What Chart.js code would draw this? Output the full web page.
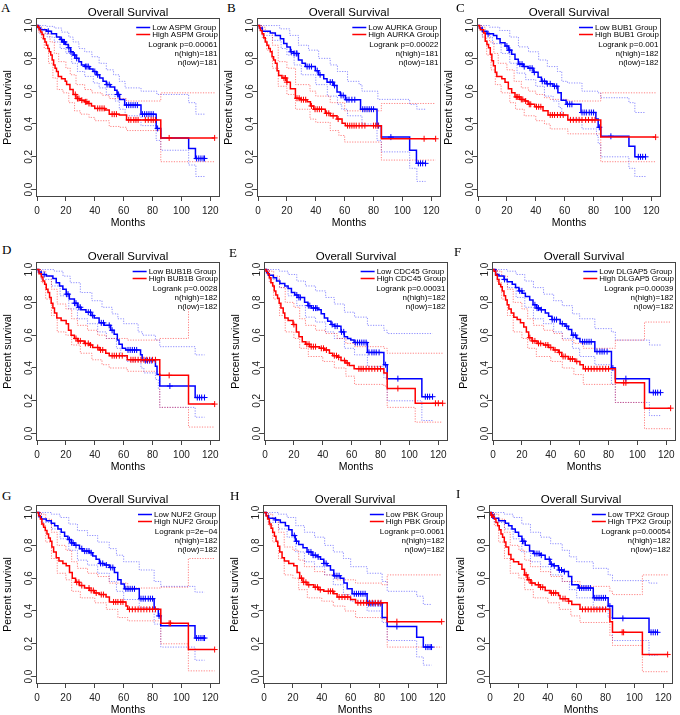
<!DOCTYPE html>
<html>
<head>
<meta charset="utf-8">
<script src="https://cdn.jsdelivr.net/npm/chart.js@4.4.1/dist/chart.umd.min.js"></script>
<style>
html, body { margin: 0; padding: 0; background: #fff; overflow: hidden; width: 680px; height: 715px; position: relative; }
canvas { position: absolute; }
.tag { position: absolute; font: 13px "Liberation Serif", "Times New Roman", serif; line-height: 13px; color: #000; }
</style>
</head>
<body>
<script>
// ---- panel texts ----
var letters = ['A', 'B', 'C', 'D', 'E', 'F', 'G', 'H', 'I'];
var genes = ['ASPM', 'AURKA', 'BUB1', 'BUB1B', 'CDC45', 'DLGAP5', 'NUF2', 'PBK', 'TPX2'];
var pValues = ['0.00061', '0.00022', '0.001', '0.0028', '0.00031', '0.00039', '2e\u221204', '0.0061', '0.00054'];
var nHigh = [181, 181, 182, 182, 182, 182, 182, 182, 182];
var nLow = [181, 181, 182, 182, 182, 182, 182, 182, 182];

// ---- survival curves: [month, survival] steps, censor months, dotted 95% bands ----
// A  ASPM
var aLow = [[0,1],[1,0.985],[2.5,0.975],[6.7,0.965],[10,0.95],[13.5,0.93],[16,0.915],[17.7,0.9],[19.8,0.885],[21.6,0.865],[23.2,0.84],[25,0.82],[27,0.8],[29,0.78],[30.8,0.76],[33,0.75],[36.5,0.735],[38.8,0.72],[41,0.7],[43.4,0.68],[45.7,0.66],[48,0.64],[50.8,0.625],[53.8,0.605],[55.4,0.58],[57.2,0.55],[60.7,0.515],[72,0.46],[82.5,0.373],[85.7,0.315],[105,0.25],[109.7,0.19],[116,0.19]];
var aLowCens = [7.8,17,18.5,19,22,23.5,26,27.5,33.5,34.5,35.5,40,42,48.5,50,55.8,56.5,62,63.5,65,66.5,68,69.5,73,74.5,76,77.5,79,80.5,83.5,110.5,112,113.5,115,116];
var aHigh = [[0,1],[0.5,0.99],[1.5,0.975],[2.5,0.96],[3.5,0.945],[4.5,0.92],[5.5,0.9],[6.5,0.88],[7.5,0.86],[8.5,0.84],[9.5,0.82],[10.5,0.79],[11.5,0.76],[12.5,0.74],[13.5,0.72],[14.7,0.69],[17,0.675],[19.5,0.66],[20.5,0.64],[22.8,0.61],[25,0.58],[27,0.555],[29.7,0.545],[33,0.535],[35.4,0.525],[37.7,0.51],[40,0.495],[47,0.485],[50,0.46],[57,0.455],[62,0.425],[85.7,0.315],[123,0.315]];
var aHighCens = [26.5,28,29,31,33.5,34.5,36,42,43.5,45,46.5,52,53.5,55,63.5,65,67,68.5,70,75,77,79,80.5,82,91.5,123];
var aLowUp = [[0,1],[6,0.995],[12,0.985],[17,0.96],[22,0.93],[25,0.9],[29,0.86],[33,0.84],[38,0.81],[43,0.77],[48,0.73],[53,0.7],[57,0.66],[61,0.62],[72,0.6],[83,0.58],[105,0.53],[110,0.46],[116,0.46]];
var aLowDn = [[0,1],[2,0.95],[7,0.93],[12,0.9],[16,0.86],[20,0.83],[24,0.77],[28,0.72],[33,0.69],[39,0.65],[43,0.62],[48,0.58],[54,0.54],[57,0.49],[61,0.45],[72,0.39],[82.5,0.3],[85.7,0.24],[105,0.15],[110,0.08],[116,0.08]];
var aHighUp = [[0,1],[1,0.995],[3,0.98],[6,0.95],[9,0.9],[12,0.83],[15,0.78],[20,0.74],[23,0.7],[27,0.64],[33,0.61],[38,0.59],[45,0.575],[50,0.555],[62,0.54],[85.7,0.59],[123,0.59]];
var aHighDn = [[0,1],[1,0.96],[3,0.92],[5,0.86],[8,0.77],[11,0.68],[14,0.61],[18,0.59],[22,0.53],[26,0.48],[30,0.46],[36,0.44],[40,0.42],[50,0.385],[57,0.38],[62,0.36],[85.7,0.17],[123,0.17]];
// B  AURKA
var bLow = [[0,1],[1,0.985],[3,0.966],[8.5,0.955],[12,0.94],[15.5,0.92],[17.8,0.89],[20,0.87],[22.4,0.84],[24.7,0.83],[28,0.79],[30.5,0.77],[32.8,0.75],[39.7,0.725],[42,0.7],[45.5,0.675],[47.8,0.655],[52.4,0.635],[54.7,0.595],[57,0.574],[60.5,0.548],[71,0.49],[82.4,0.39],[85.4,0.32],[105,0.24],[109.7,0.16],[116,0.16]];
var bLowCens = [23,25,26.5,27,34,35.5,37,41,43,50,51.5,53,57.5,59,61.5,63,65,67,72.5,74,75.5,77,78.5,80,83.5,92,111,112.5,114,116];
var bHigh = [[0,1],[1,0.985],[1.6,0.97],[2.8,0.95],[4,0.925],[5,0.9],[6.2,0.88],[7.4,0.86],[8.5,0.84],[9.7,0.81],[10.8,0.79],[12,0.77],[13.2,0.725],[14.3,0.695],[16.6,0.68],[20,0.655],[22.4,0.615],[25.9,0.557],[29.3,0.548],[34,0.535],[36.3,0.51],[38.6,0.49],[46.6,0.465],[50,0.45],[54.7,0.43],[58.2,0.405],[60.5,0.39],[85.4,0.31],[123,0.31]];
var bHighCens = [18,19,20,27,28.5,30,31.5,33,37,39.5,41,42.5,44,47.5,49,52,55.5,62,63.5,65,66.5,68,70,72,74,80,81.5,83,115,123];
var bLowUp = [[0,1],[8,1],[15,0.98],[22,0.94],[28,0.88],[35,0.85],[42,0.8],[50,0.76],[55,0.72],[62,0.66],[70,0.64],[72,0.6],[83,0.55],[105,0.52],[110,0.49],[116,0.49]];
var bLowDn = [[0,1],[3,0.94],[10,0.91],[16,0.86],[20,0.82],[25,0.76],[30,0.7],[40,0.64],[48,0.57],[55,0.52],[58,0.49],[62,0.45],[72,0.4],[82.4,0.3],[85.4,0.23],[105,0.13],[110,0.05],[116,0.05]];
var bHighUp = [[0,1],[2,0.99],[5,0.96],[10,0.88],[14,0.78],[20,0.74],[26,0.64],[36,0.6],[40,0.57],[50,0.53],[60,0.48],[85.4,0.525],[123,0.525]];
var bHighDn = [[0,1],[3,0.92],[6,0.85],[10,0.74],[14,0.63],[20,0.58],[26,0.49],[36,0.43],[40,0.41],[50,0.36],[56,0.33],[60,0.29],[85.4,0.18],[123,0.18]];
// C  BUB1
var cLow = [[0,1],[1,0.985],[3,0.965],[6.2,0.95],[10.7,0.94],[13,0.92],[15.3,0.895],[18.7,0.875],[21,0.85],[23.3,0.825],[25.6,0.795],[27.9,0.765],[31.3,0.75],[34.7,0.74],[38.2,0.715],[41.6,0.685],[43.9,0.66],[47.3,0.645],[51.9,0.63],[55.3,0.59],[57.6,0.545],[61,0.52],[71.3,0.47],[81.6,0.43],[83.2,0.38],[85,0.325],[104.5,0.265],[108.6,0.2],[116,0.2]];
var cLowCens = [7,20,21.5,22,29,30.5,32,36,37.5,39,44.5,46,48,50,53,54.5,62,63.5,65,72,73.5,75,77,78.5,80,84,92,111,112.5,114,116];
var cHigh = [[0,1],[1,0.985],[1.6,0.975],[3.9,0.955],[5,0.905],[6.2,0.885],[7.3,0.865],[8.5,0.825],[9.6,0.785],[10.7,0.755],[11.9,0.715],[13,0.69],[16.5,0.675],[18.7,0.655],[21,0.615],[23.3,0.59],[25.6,0.565],[29,0.55],[32.5,0.54],[34.7,0.52],[39.3,0.505],[45,0.48],[48.5,0.455],[62.2,0.425],[85,0.32],[123,0.32]];
var cHighCens = [26.5,27.5,28.5,30,31,33,35.5,36.5,40.5,42,43.5,50,51.5,53,55,57,59,64,66,68,70,72,74.5,76.5,79,81,123];
var cLowUp = [[0,1],[8,0.99],[15,0.97],[22,0.93],[28,0.87],[35,0.84],[42,0.79],[48,0.75],[55,0.72],[58,0.66],[62,0.65],[72,0.6],[83,0.59],[85,0.56],[104.5,0.53],[108.6,0.47],[116,0.47]];
var cLowDn = [[0,1],[3,0.93],[10,0.89],[16,0.83],[22,0.77],[27,0.71],[33,0.67],[40,0.63],[46,0.57],[52,0.54],[56,0.5],[58,0.45],[62,0.43],[72,0.37],[82,0.33],[83.2,0.28],[85,0.2],[104.5,0.13],[108.6,0.08],[116,0.08]];
var cHighUp = [[0,1],[2,0.99],[5,0.96],[8,0.9],[11,0.83],[14,0.77],[20,0.73],[25,0.66],[30,0.62],[35,0.6],[40,0.58],[46,0.56],[50,0.55],[62.2,0.54],[85,0.59],[123,0.59]];
var cHighDn = [[0,1],[3,0.93],[6,0.82],[9,0.73],[12,0.64],[16,0.59],[22,0.53],[26,0.49],[32,0.45],[40,0.42],[46,0.4],[50,0.37],[62.2,0.34],[85,0.17],[123,0.17]];
// D  BUB1B
var dLow = [[0,1],[1,0.985],[3,0.97],[6.4,0.96],[11,0.945],[13.3,0.92],[15.6,0.9],[17.9,0.88],[20.2,0.85],[22.4,0.82],[25.9,0.795],[28.2,0.77],[30.5,0.755],[33.9,0.74],[37.3,0.72],[39.6,0.705],[43,0.675],[46.5,0.66],[51,0.63],[53.4,0.605],[55.6,0.57],[56.8,0.545],[59,0.52],[61.4,0.51],[71.7,0.48],[72.8,0.445],[82,0.41],[83.1,0.36],[85,0.29],[109.5,0.22],[116,0.22]];
var dLowCens = [5,20.5,21.5,26,27,29,30,35.5,37,38.5,44.5,46,50,52,63,64.5,66,67.5,69,75,76.5,78,79.5,92,111,112.5,114,116];
var dHigh = [[0,1],[1.4,0.975],[3,0.955],[4.1,0.93],[5.3,0.91],[6.4,0.88],[7.6,0.86],[8.7,0.83],[9.8,0.795],[11,0.765],[12.1,0.735],[13.7,0.705],[16.7,0.69],[20.2,0.67],[21.8,0.63],[23.6,0.6],[25.9,0.58],[28.2,0.565],[32.7,0.55],[36.2,0.54],[38.5,0.525],[43,0.51],[47.6,0.49],[50,0.475],[62.5,0.45],[85,0.355],[104.9,0.18],[123,0.18]];
var dHighCens = [27,28.5,30,33.5,35.5,37,42,44,45.5,52,53.5,55,57,59,65,66.5,68,70,72,74,76,78,80,82,91.5,123];
var dLowUp = [[0,1],[6,1],[12,0.99],[18,0.96],[23,0.92],[30,0.86],[38,0.81],[45,0.77],[52,0.73],[56,0.7],[60,0.67],[70,0.62],[73,0.6],[82,0.57],[85,0.53],[109.5,0.48],[116,0.48]];
var dLowDn = [[0,1],[3,0.94],[10,0.9],[16,0.84],[22,0.76],[28,0.7],[35,0.67],[42,0.62],[48,0.58],[55,0.52],[58,0.47],[62,0.44],[72,0.4],[74,0.37],[82,0.33],[84,0.27],[85,0.16],[109.5,0.1],[116,0.1]];
var dHighUp = [[0,1],[3,0.99],[6,0.96],[10,0.88],[14,0.79],[20,0.76],[24,0.7],[28,0.66],[35,0.63],[42,0.6],[48,0.58],[62.5,0.57],[85,0.58],[104.9,0.76],[106,0.76]];
var dHighDn = [[0,1],[3,0.92],[6,0.82],[10,0.72],[14,0.62],[20,0.6],[24,0.54],[30,0.49],[38,0.45],[45,0.42],[50,0.4],[62.5,0.38],[85,0.16],[104.9,0.04],[123,0.04]];
// E  CDC45
var eLow = [[0,1],[1.1,0.98],[2.3,0.965],[5.7,0.95],[8,0.93],[10.3,0.915],[13.7,0.9],[16,0.885],[18.3,0.86],[20.6,0.845],[22.9,0.83],[27.4,0.8],[29.7,0.78],[32,0.765],[36.6,0.755],[38.9,0.73],[41.1,0.705],[43.4,0.685],[45.7,0.665],[48,0.655],[52.6,0.62],[54.9,0.59],[57.1,0.58],[59.4,0.57],[61.7,0.555],[70.9,0.495],[82.3,0.42],[84.6,0.335],[108.6,0.225],[116,0.225]];
var eLowCens = [22,23.5,24.5,30,31,33.5,35,36,46.5,48.5,50,53,54.5,62.5,64,65.5,67,68.5,70,72,74,75.5,77,79,83.5,92,111,112.5,114,116];
var eHigh = [[0,1],[0.7,0.99],[1.8,0.975],[3,0.95],[4.1,0.92],[5.3,0.9],[6.4,0.87],[7.5,0.845],[8.7,0.825],[9.8,0.795],[11,0.765],[12.6,0.735],[13.7,0.705],[16,0.69],[19.4,0.665],[21.7,0.62],[23.5,0.59],[25.8,0.56],[28.1,0.545],[30.9,0.53],[37.7,0.52],[41.1,0.51],[44.6,0.49],[46.9,0.475],[50.3,0.465],[52.6,0.445],[56,0.43],[58.3,0.415],[61.7,0.395],[82.3,0.37],[84.6,0.275],[104,0.185],[123,0.185]];
var eHighCens = [20,29,30.5,32,33.5,35,39,40.5,42.5,48,49.5,51,55,57,65,66.5,68,70,72,74,76,78,80,92,118,120,123];
var eLowUp = [[0,1],[10,0.99],[16,0.97],[22,0.93],[28,0.9],[35,0.87],[42,0.83],[48,0.79],[55,0.74],[62,0.71],[70.9,0.66],[82.3,0.63],[84.6,0.61],[116,0.61]];
var eLowDn = [[0,1],[3,0.94],[10,0.89],[16,0.84],[22,0.78],[28,0.71],[35,0.68],[42,0.62],[48,0.58],[55,0.52],[62,0.48],[70.9,0.41],[82.3,0.34],[84.6,0.2],[108.6,0.08],[116,0.08]];
var eHighUp = [[0,1],[3,0.99],[6,0.96],[10,0.89],[14,0.8],[20,0.77],[24,0.7],[28,0.66],[35,0.63],[42,0.61],[50,0.58],[56,0.55],[62,0.53],[82.3,0.52],[84.6,0.49],[123,0.49]];
var eHighDn = [[0,1],[3,0.92],[6,0.82],[10,0.72],[14,0.62],[20,0.58],[24,0.52],[30,0.47],[40,0.44],[48,0.4],[56,0.35],[62,0.3],[82.3,0.29],[84.6,0.16],[104,0.07],[123,0.07]];
// F  DLGAP5
var fLow = [[0,1],[1.8,0.97],[4.1,0.96],[7.6,0.94],[9.8,0.925],[13.3,0.91],[15.6,0.89],[17.9,0.87],[20.2,0.855],[22.4,0.835],[25.4,0.815],[27.7,0.785],[30,0.765],[32.7,0.755],[36.2,0.735],[38.5,0.715],[40.8,0.695],[46.5,0.67],[49.9,0.655],[52.2,0.635],[54.5,0.6],[57.9,0.58],[60.2,0.56],[70.5,0.5],[82,0.4],[84.7,0.335],[108.3,0.25],[116,0.25]];
var fLowCens = [8,18.5,20,29,30.5,31.5,33.5,41,42.5,44,48,51,55.5,57,62,63.5,65,66.5,68,72,74,75.5,77,79,83,92,111,112.5,114,116];
var fHigh = [[0,1],[0.7,0.99],[1.8,0.965],[3,0.94],[4.1,0.91],[5.3,0.895],[6.4,0.87],[7.6,0.84],[8.7,0.815],[9.8,0.785],[11,0.76],[12.6,0.735],[14.4,0.71],[16.7,0.695],[19,0.675],[21.3,0.65],[23.1,0.62],[24.7,0.585],[27,0.565],[30.5,0.55],[35,0.54],[38.5,0.525],[41.9,0.51],[45.3,0.495],[47.6,0.47],[52.2,0.455],[56.8,0.44],[60.2,0.42],[62.5,0.395],[84.7,0.31],[104.9,0.155],[123,0.155]];
var fHighCens = [25.5,27.5,29,31.5,33,36.5,38,40,43,46,48.5,50,53.5,55,58,64,66,68,70,72,74,76,78,80,90.5,92,123];
var fLowUp = [[0,1],[10,0.99],[16,0.97],[22,0.93],[28,0.89],[35,0.85],[42,0.81],[48,0.78],[55,0.73],[60,0.7],[70.5,0.64],[82,0.62],[84.7,0.57],[108.3,0.54],[116,0.54]];
var fLowDn = [[0,1],[3,0.94],[10,0.89],[16,0.83],[22,0.77],[28,0.7],[35,0.67],[42,0.62],[48,0.58],[55,0.52],[60,0.47],[70.5,0.42],[82,0.3],[84.7,0.19],[108.3,0.11],[116,0.11]];
var fHighUp = [[0,1],[3,0.99],[6,0.96],[10,0.88],[14,0.8],[20,0.76],[24,0.7],[28,0.66],[35,0.63],[42,0.61],[48,0.57],[56,0.55],[62.5,0.52],[84.7,0.57],[104.9,0.68],[123,0.68]];
var fHighDn = [[0,1],[3,0.92],[6,0.82],[10,0.72],[14,0.62],[20,0.58],[24,0.52],[30,0.47],[40,0.44],[48,0.4],[56,0.36],[62.5,0.3],[84.7,0.19],[104.9,0.03],[123,0.03]];
// G  NUF2
var gLow = [[0,1],[1.4,0.975],[3,0.96],[6.4,0.95],[9.9,0.935],[12.2,0.92],[14.5,0.9],[16.8,0.88],[19.1,0.855],[21.4,0.835],[23.7,0.815],[26,0.8],[29.4,0.78],[31.7,0.765],[36.3,0.755],[38.6,0.735],[40.9,0.715],[43.2,0.69],[46.7,0.68],[50.1,0.665],[53.6,0.635],[55.9,0.59],[58.2,0.565],[60.5,0.535],[70.8,0.475],[81.1,0.41],[84,0.37],[85.7,0.31],[109.4,0.235],[116,0.235]];
var gLowCens = [22.5,24,25,27,31,33,34.5,36,37.5,44,45.5,48,51,52.5,61.5,63,64.5,66,67.5,72,73.5,75,77,78.5,80,84.5,110.5,112,113.5,115,116];
var gHigh = [[0,1],[1.1,0.98],[2.3,0.96],[3.4,0.93],[4.6,0.91],[5.7,0.89],[6.9,0.87],[8,0.845],[9.2,0.825],[10.3,0.79],[11.5,0.76],[13.3,0.725],[15.2,0.705],[17.9,0.69],[20.2,0.675],[22.5,0.635],[24.4,0.6],[26.7,0.575],[29.4,0.555],[32.9,0.54],[36.3,0.525],[39.8,0.51],[43.2,0.5],[47.8,0.485],[50.1,0.455],[61.6,0.43],[62.8,0.41],[85.7,0.325],[104.8,0.165],[123,0.165]];
var gHighCens = [27.5,29,31,36,37.5,39,41,44.5,46,53,54.5,56,58,59.5,64,66,68,70,72,74,76,78,80,82,91.5,92.5,123];
var gLowUp = [[0,1],[10,0.99],[16,0.97],[22,0.93],[28,0.89],[35,0.86],[42,0.82],[50,0.78],[55,0.74],[60,0.7],[70.8,0.65],[81.1,0.58],[85.7,0.55],[109.4,0.515],[116,0.515]];
var gLowDn = [[0,1],[3,0.94],[10,0.9],[16,0.84],[22,0.77],[28,0.71],[35,0.68],[42,0.63],[50,0.58],[55,0.52],[60,0.47],[70.8,0.42],[81.1,0.32],[85.7,0.18],[109.4,0.1],[116,0.1]];
var gHighUp = [[0,1],[3,0.99],[6,0.96],[10,0.88],[14,0.8],[20,0.77],[24,0.7],[28,0.66],[35,0.63],[42,0.61],[50,0.57],[62.8,0.54],[85.7,0.545],[104.8,0.72],[123,0.72]];
var gHighDn = [[0,1],[3,0.92],[6,0.82],[10,0.72],[14,0.63],[20,0.59],[24,0.52],[30,0.48],[40,0.45],[48,0.41],[56,0.36],[62.8,0.34],[85.7,0.2],[104.8,0.035],[123,0.035]];
// H  PBK
var hLow = [[0,1],[1.6,0.98],[3.2,0.965],[7.9,0.955],[11.3,0.94],[14.8,0.92],[17.1,0.895],[19.4,0.86],[21.7,0.825],[24,0.805],[27,0.785],[29.8,0.76],[33.3,0.74],[36.8,0.73],[39.1,0.715],[41.4,0.69],[43.7,0.675],[46,0.65],[48.3,0.615],[52.9,0.6],[55.3,0.57],[57.6,0.535],[61,0.505],[71.4,0.445],[81.8,0.36],[85.3,0.305],[105.7,0.24],[110.3,0.18],[116,0.18]];
var hLowCens = [8,21,22.5,31,32.5,34,35.5,37.5,41.5,43,49,50.5,52,62.5,64,65.5,67,68.5,70,72.5,74,75.5,77,79,80.5,92,112,113.5,115,116];
var hHigh = [[0,1],[1.4,0.98],[2.5,0.96],[3.7,0.93],[4.9,0.905],[6,0.88],[7.2,0.855],[8.3,0.825],[9.5,0.795],[10.9,0.76],[12.5,0.725],[14.1,0.705],[17.1,0.69],[20.6,0.675],[22.9,0.635],[24.7,0.6],[27,0.575],[29.8,0.56],[34.5,0.545],[37.9,0.53],[41.4,0.52],[48.3,0.505],[50.6,0.485],[59.9,0.47],[63.4,0.45],[85.3,0.335],[123,0.335]];
var hHighCens = [26,27.5,29,31,35.5,37,39,44.5,46,47.5,52,54,56,58,65,67,69,71,73,75,77,79,81,92,123];
var hLowUp = [[0,1],[10,0.99],[16,0.97],[22,0.92],[28,0.88],[35,0.85],[42,0.8],[48,0.76],[55,0.72],[60,0.67],[71.4,0.63],[81.8,0.58],[85.3,0.52],[105.7,0.49],[110.3,0.44],[116,0.44]];
var hLowDn = [[0,1],[3,0.94],[10,0.9],[16,0.85],[22,0.76],[28,0.7],[35,0.67],[42,0.62],[48,0.56],[55,0.5],[60,0.46],[71.4,0.4],[81.8,0.33],[85.3,0.22],[105.7,0.12],[110.3,0.07],[116,0.07]];
var hHighUp = [[0,1],[3,0.99],[6,0.96],[10,0.88],[14,0.79],[20,0.77],[24,0.71],[28,0.67],[35,0.64],[42,0.62],[50,0.59],[63.4,0.57],[81.8,0.56],[85.3,0.62],[123,0.62]];
var hHighDn = [[0,1],[3,0.92],[6,0.82],[10,0.72],[14,0.62],[20,0.6],[24,0.53],[30,0.48],[40,0.46],[48,0.43],[56,0.4],[63.4,0.36],[81.8,0.35],[85.3,0.18],[123,0.18]];
// I  TPX2
var iLow = [[0,1],[0.9,0.985],[2.1,0.965],[6,0.95],[10.6,0.935],[12.9,0.92],[15.2,0.9],[17.5,0.88],[19.8,0.855],[22.1,0.825],[24.4,0.8],[27.4,0.765],[30.1,0.75],[34.7,0.74],[38.2,0.715],[41.6,0.685],[43.9,0.675],[47.4,0.65],[50.8,0.64],[54.3,0.61],[56.6,0.56],[61.1,0.54],[71.5,0.48],[81.8,0.43],[84.8,0.355],[110.1,0.27],[116,0.27]];
var iLowCens = [1.5,22.5,23.5,31,32.5,34,35.5,41,42.5,44.5,48,49.5,51.5,62,63.5,65,66.5,68,69.5,72.5,74,75.5,77,78.5,80,83,92,111.5,113,114.5,116];
var iHigh = [[0,1],[0.7,0.985],[1.8,0.975],[3,0.96],[4.1,0.94],[5.3,0.92],[6.4,0.895],[7.6,0.87],[8.7,0.85],[9.9,0.82],[11,0.79],[12.9,0.745],[14.5,0.715],[16.3,0.7],[19.8,0.685],[22.1,0.655],[23.9,0.62],[26,0.59],[28.3,0.57],[31.3,0.56],[34.7,0.545],[38.2,0.525],[41.6,0.51],[47.4,0.495],[48.5,0.475],[54.3,0.46],[56.6,0.44],[62.3,0.41],[83,0.335],[84.8,0.27],[105.5,0.135],[123,0.135]];
var iHighCens = [1,25,27,29,33.5,35,36.5,42.5,44,45.5,50.5,52,54.5,64,66,68,70,72,74,76,78,80,91.5,92.5,123];
var iLowUp = [[0,1],[10,0.99],[16,0.97],[22,0.93],[28,0.88],[35,0.85],[42,0.81],[50,0.77],[55,0.73],[60,0.7],[71.5,0.66],[81.8,0.62],[84.8,0.585],[110.1,0.57],[116,0.57]];
var iLowDn = [[0,1],[3,0.94],[10,0.9],[16,0.84],[22,0.76],[28,0.7],[35,0.67],[42,0.62],[50,0.58],[55,0.53],[60,0.48],[71.5,0.42],[81.8,0.36],[84.8,0.22],[110.1,0.13],[116,0.13]];
var iHighUp = [[0,1],[3,0.99],[6,0.96],[10,0.88],[14,0.8],[20,0.77],[24,0.71],[28,0.67],[35,0.64],[42,0.61],[50,0.58],[62.3,0.55],[83,0.52],[84.8,0.5],[105.5,0.62],[123,0.62]];
var iHighDn = [[0,1],[3,0.92],[6,0.82],[10,0.72],[14,0.63],[20,0.6],[24,0.53],[30,0.48],[40,0.45],[48,0.41],[56,0.37],[62.3,0.33],[83,0.25],[84.8,0.19],[105.5,0.03],[123,0.03]];

// ---- layout ----
var boxPos = [[36,18],[257,18],[477,18],[36,262],[264,262],[492,262],[36,505],[263,505],[489,505]];
var tagPos = [[1,1],[227,1],[456,1],[2,243],[229,246],[454,245],[2,489],[230,489],[456,487]];
var BOX_W = 185, BOX_H = 179, PAD_L = 36, PAD_T = 24, PAD_R = 4, PAD_B = 32;
var FONT = '"Liberation Sans", Arial, sans-serif';
var BLUE = '#0000ff', RED = '#ff0000';

var panels = [
    [aLow, aLowCens, aLowUp, aLowDn, aHigh, aHighCens, aHighUp, aHighDn],
    [bLow, bLowCens, bLowUp, bLowDn, bHigh, bHighCens, bHighUp, bHighDn],
    [cLow, cLowCens, cLowUp, cLowDn, cHigh, cHighCens, cHighUp, cHighDn],
    [dLow, dLowCens, dLowUp, dLowDn, dHigh, dHighCens, dHighUp, dHighDn],
    [eLow, eLowCens, eLowUp, eLowDn, eHigh, eHighCens, eHighUp, eHighDn],
    [fLow, fLowCens, fLowUp, fLowDn, fHigh, fHighCens, fHighUp, fHighDn],
    [gLow, gLowCens, gLowUp, gLowDn, gHigh, gHighCens, gHighUp, gHighDn],
    [hLow, hLowCens, hLowUp, hLowDn, hHigh, hHighCens, hHighUp, hHighDn],
    [iLow, iLowCens, iLowUp, iLowDn, iHigh, iHighCens, iHighUp, iHighDn]
];

function survAt(curve, t) {
    var s = 1;
    for (var i = 0; i < curve.length; i++) {
        if (curve[i][0] <= t) s = curve[i][1];
    }
    return s;
}

function stepSet(curve, color, width, dash) {
    return {
        data: curve.map(function (p) { return {x: p[0], y: p[1]}; }),
        borderColor: color,
        borderWidth: width,
        borderDash: dash || [],
        stepped: true,
        pointRadius: 0,
        fill: false
    };
}

function censorSet(curve, times, color) {
    return {
        data: times.map(function (t) { return {x: t, y: survAt(curve, t)}; }),
        showLine: false,
        pointStyle: 'cross',
        pointRadius: 3,
        pointBorderWidth: 1,
        pointBorderColor: color,
        borderColor: color
    };
}

// box, title and in-plot legend
var panelDecor = {
    id: 'panelDecor',
    afterDraw: function (chart, args, o) {
        var ctx = chart.ctx, a = chart.chartArea;
        ctx.save();
        ctx.strokeStyle = '#444';
        ctx.lineWidth = 1;
        ctx.strokeRect(a.left + 0.5, a.top + 0.5, a.right - a.left - 1, a.bottom - a.top - 1);

        ctx.fillStyle = '#000';
        ctx.font = '11.5px ' + FONT;
        ctx.textAlign = 'center';
        ctx.textBaseline = 'alphabetic';
        ctx.fillText('Overall Survival', (a.left + a.right) / 2, a.top - 2.5);

        ctx.font = '8px ' + FONT;
        ctx.textBaseline = 'middle';
        var lowLabel = 'Low ' + o.gene + ' Group';
        var highLabel = 'High ' + o.gene + ' Group';
        var w = Math.max(ctx.measureText(lowLabel).width, ctx.measureText(highLabel).width);
        var tx = a.right - 2 - w;
        ctx.textAlign = 'left';
        ctx.fillText(lowLabel, tx, a.top + 9.5);
        ctx.fillText(highLabel, tx, a.top + 16.5);
        ctx.lineWidth = 1.5;
        ctx.strokeStyle = BLUE;
        ctx.beginPath(); ctx.moveTo(tx - 16, a.top + 9.5); ctx.lineTo(tx - 2, a.top + 9.5); ctx.stroke();
        ctx.strokeStyle = RED;
        ctx.beginPath(); ctx.moveTo(tx - 16, a.top + 16.5); ctx.lineTo(tx - 2, a.top + 16.5); ctx.stroke();

        ctx.textAlign = 'right';
        ctx.fillText('Logrank p=' + o.p, a.right - 2.5, a.top + 26.5);
        ctx.fillText('n(high)=' + o.nh, a.right - 2.5, a.top + 35.5);
        ctx.fillText('n(low)=' + o.nl, a.right - 2.5, a.top + 44.5);
        ctx.restore();
    }
};

panels.forEach(function (pn, k) {
    var tag = document.createElement('div');
    tag.className = 'tag';
    tag.textContent = letters[k];
    tag.style.left = tagPos[k][0] + 'px';
    tag.style.top = tagPos[k][1] + 'px';
    document.body.appendChild(tag);

    var W = PAD_L + BOX_W + PAD_R, H = PAD_T + BOX_H + PAD_B;
    var cv = document.createElement('canvas');
    cv.width = W; cv.height = H;
    cv.style.width = W + 'px'; cv.style.height = H + 'px';
    cv.style.left = (boxPos[k][0] - PAD_L) + 'px';
    cv.style.top = (boxPos[k][1] - PAD_T) + 'px';
    document.body.appendChild(cv);

    var low = pn[0], lowCens = pn[1], lowUp = pn[2], lowDn = pn[3];
    var high = pn[4], highCens = pn[5], highUp = pn[6], highDn = pn[7];
    var dot = [1.2, 1.4];

    new Chart(cv.getContext('2d'), {
        type: 'line',
        data: {
            datasets: [
                censorSet(high, highCens, RED),
                stepSet(high, RED, 1.5),
                censorSet(low, lowCens, BLUE),
                stepSet(low, BLUE, 1.5),
                stepSet(highUp, 'rgba(255,0,0,0.55)', 0.9, dot),
                stepSet(highDn, 'rgba(255,0,0,0.55)', 0.9, dot),
                stepSet(lowUp, 'rgba(0,0,255,0.5)', 0.9, dot),
                stepSet(lowDn, 'rgba(0,0,255,0.5)', 0.9, dot)
            ]
        },
        options: {
            responsive: false,
            animation: false,
            devicePixelRatio: 1,
            events: [],
            layout: { padding: { top: PAD_T, right: PAD_R, left: 0, bottom: 0 } },
            plugins: {
                legend: { display: false },
                tooltip: { enabled: false },
                panelDecor: { gene: genes[k], p: pValues[k], nh: nHigh[k], nl: nLow[k] }
            },
            scales: {
                x: {
                    type: 'linear',
                    min: -0.7,
                    max: 126.7,
                    afterFit: function (s) { s.height = PAD_B; },
                    border: { display: false },
                    grid: { drawOnChartArea: false, tickLength: 4, color: '#444' },
                    ticks: {
                        stepSize: 20, includeBounds: false, autoSkip: false, maxRotation: 0,
                        padding: 4.5, color: '#222', font: { family: FONT, size: 10 },
                        callback: function (v) { return v; }
                    },
                    title: { display: true, text: 'Months', color: '#000', padding: { top: 0, bottom: 0 }, font: { family: FONT, size: 10.5 } }
                },
                y: {
                    type: 'linear',
                    min: -0.045,
                    max: 1.046,
                    afterFit: function (s) { s.width = PAD_L; },
                    border: { display: false },
                    grid: { drawOnChartArea: false, tickLength: 4, color: '#444' },
                    ticks: {
                        stepSize: 0.2, includeBounds: false, autoSkip: false,
                        minRotation: 90, maxRotation: 90, crossAlign: 'center',
                        padding: -4.5, color: '#222', font: { family: FONT, size: 10 },
                        callback: function (v) { return v.toFixed(1); }
                    },
                    title: { display: true, text: 'Percent survival', color: '#000', padding: { top: 2, bottom: 0 }, font: { family: FONT, size: 10.5 } }
                }
            }
        },
        plugins: [panelDecor]
    });
});
</script>
</body>
</html>
